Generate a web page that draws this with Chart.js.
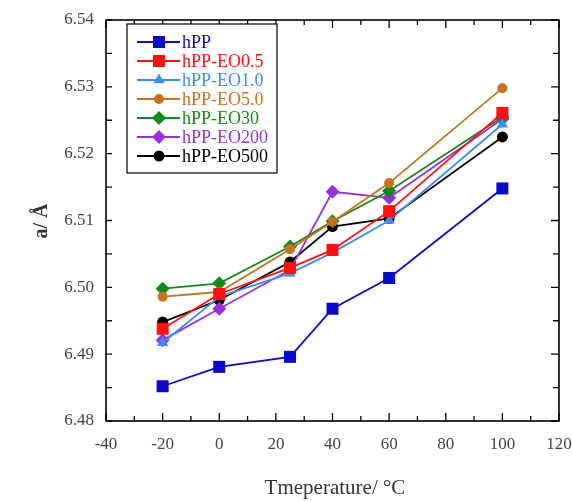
<!DOCTYPE html>
<html>
<head>
<meta charset="utf-8">
<script src="https://cdn.jsdelivr.net/npm/chart.js@4/dist/chart.umd.min.js"></script>
<style>
  html, body { margin: 0; padding: 0; background: #fff; }
  #wrap { width: 572px; height: 502px; position: relative; }
</style>
</head>
<body>
<div id="wrap"><canvas id="latticeChart"></canvas></div>
<script>
/// data ///
const temps = [-20, 0, 25, 40, 60, 100];
const seriesNames = ["hPP", "hPP-EO0.5", "hPP-EO1.0", "hPP-EO5.0", "hPP-EO30", "hPP-EO200", "hPP-EO500"];
const hPP      = [6.4852, 6.4881, 6.4896, 6.4968, 6.5014, 6.5148];
const hPP_EO05 = [6.4938, 6.4990, 6.5029, 6.5056, 6.5114, 6.5261];
const hPP_EO10 = [6.4917, 6.4986, 6.5021, 6.5052, 6.5100, 6.5244];
const hPP_EO50 = [6.4986, 6.4993, 6.5057, 6.5098, 6.5156, 6.5298];
const hPP_EO30 = [6.4998, 6.5006, 6.5061, 6.5099, 6.5144, 6.5255];
const hPP_EO200 = [6.4921, 6.4968, 6.5026, 6.5143, 6.5134, 6.5252];
const hPP_EO500 = [6.4948, 6.4981, 6.5038, 6.5091, 6.5103, 6.5225];
const yTicks = [6.48, 6.49, 6.50, 6.51, 6.52, 6.53, 6.54];
const xTicks = [-40, -20, 0, 20, 40, 60, 80, 100, 120];

const allValues = [hPP, hPP_EO05, hPP_EO10, hPP_EO50, hPP_EO30, hPP_EO200, hPP_EO500];
const colors  = ["#0a0ac8", "#ff1010", "#3b8def", "#c8711f", "#16871a", "#9a30dc", "#000000"];
const markers = ["rect", "rect", "triangle", "circle", "rectRot", "rectRot", "circle"];
const radii   = [8.5, 8.5, 6.5, 5, 7, 7, 5.5];

const serif = "'Liberation Serif', 'Times New Roman', serif";

const datasets = seriesNames.map((name, i) => ({
  label: name,
  data: temps.map((t, k) => ({ x: t, y: allValues[i][k] })),
  borderColor: colors[i],
  backgroundColor: colors[i],
  pointStyle: markers[i],
  pointRadius: radii[i],
  pointHoverRadius: radii[i],
  pointBorderWidth: 0,
  borderWidth: 1.8,
  tension: 0
}));

// box + inward ticks + legend + axis titles
const framePlugin = {
  id: "frame",
  afterDatasetsDraw(chart) {
    const c = chart.ctx, a = chart.chartArea;
    const xs = chart.scales.x, ys = chart.scales.y;
    c.save();
    c.strokeStyle = "#000";
    c.lineWidth = 1.6;
    c.strokeRect(a.left, a.top, a.right - a.left, a.bottom - a.top);
    c.lineWidth = 1.3;
    c.beginPath();
    for (let v = -40; v <= 120; v += 10) {
      const px = xs.getPixelForValue(v);
      const len = v % 20 === 0 ? 8 : 5;
      c.moveTo(px, a.bottom); c.lineTo(px, a.bottom - len);
      c.moveTo(px, a.top); c.lineTo(px, a.top + len);
    }
    for (let k = 0; k <= 12; k++) {
      const py = ys.getPixelForValue(6.48 + k * 0.005);
      const len = k % 2 === 0 ? 8 : 6;
      c.moveTo(a.left, py); c.lineTo(a.left + 6, py);
      c.moveTo(a.right, py); c.lineTo(a.right - len, py);
    }
    c.stroke();

    // legend
    const bx = 127, by = 24, bw = 150, bh = 149;
    c.fillStyle = "#fff";
    c.fillRect(bx, by, bw, bh);
    c.lineWidth = 1.2;
    c.strokeRect(bx, by, bw, bh);
    c.font = "18px " + serif;
    c.textBaseline = "middle";
    chart.data.datasets.forEach((ds, i) => {
      const yy = 42 + i * 19;
      c.strokeStyle = ds.borderColor;
      c.lineWidth = 1.8;
      c.beginPath(); c.moveTo(137, yy); c.lineTo(180, yy); c.stroke();
      c.fillStyle = ds.backgroundColor;
      Chart.helpers.drawPoint(c, { pointStyle: ds.pointStyle, radius: ds.pointRadius, borderWidth: 0, rotation: 0 }, 159, yy);
      c.fillStyle = ds.borderColor;
      c.fillText(ds.label, 182, yy + 1);
    });

    // x title
    c.fillStyle = "#333";
    c.textAlign = "center";
    c.font = "21px " + serif;
    c.fillText("Tmeperature/ °C", 335, 488);

    // y title
    c.font = "bold 20px " + serif;
    c.translate(42, 221);
    c.rotate(-Math.PI / 2);
    c.fillText("a/ Å", 0, 0);
    c.restore();
  }
};

const ctx = document.getElementById("latticeChart").getContext("2d");
new Chart(ctx, {
  type: "line",
  data: { datasets: datasets },
  options: {
    responsive: true,
    maintainAspectRatio: false,
    animation: false,
    layout: { padding: { top: 20, right: 13, left: 0, bottom: 0 } },
    plugins: { legend: { display: false }, tooltip: { enabled: false } },
    scales: {
      x: {
        type: "linear",
        min: -40, max: 120,
        afterBuildTicks: s => { s.ticks = xTicks.map(v => ({ value: v })); },
        afterFit: s => { s.height = 81; s.paddingLeft = 0; s.paddingRight = 0; },
        grid: { display: false, drawTicks: false },
        border: { display: false },
        ticks: { color: "#444", padding: 13, font: { family: serif, size: 17 } }
      },
      y: {
        type: "linear",
        min: 6.48, max: 6.54,
        afterBuildTicks: s => { s.ticks = yTicks.map(v => ({ value: v })); },
        afterFit: s => { s.width = 106; s.paddingTop = 0; s.paddingBottom = 0; },
        grid: { display: false, drawTicks: false },
        border: { display: false },
        ticks: { color: "#444", padding: 12, font: { family: serif, size: 17 }, callback: v => v.toFixed(2) }
      }
    }
  },
  plugins: [framePlugin]
});
</script>
</body>
</html>
